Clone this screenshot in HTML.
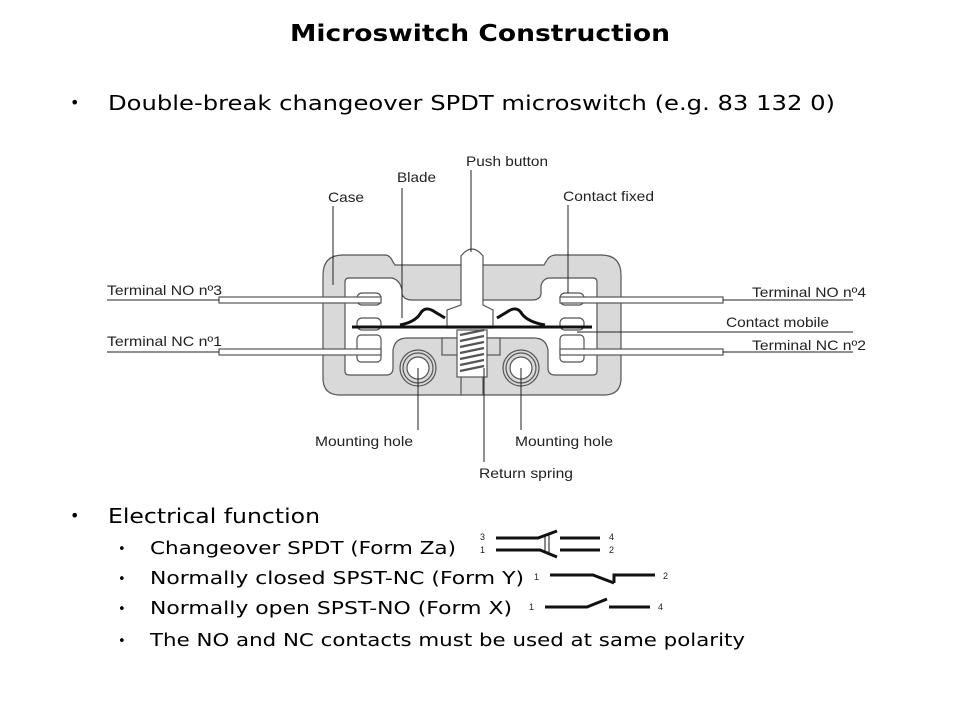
<!DOCTYPE html>
<html><head><meta charset="utf-8"><style>
body{margin:0;background:#fff;}
.w{position:relative;width:960px;height:720px;overflow:hidden;}
</style></head><body><div class="w">
<svg width="960" height="720" style="position:absolute;left:0;top:0" font-family="DejaVu Sans, Liberation Sans, sans-serif">
<g fill="#000">
<text x="290" y="41" font-size="23" font-weight="bold" textLength="380" lengthAdjust="spacingAndGlyphs">Microswitch Construction</text>
<text x="70" y="108" font-size="16">•</text>
<text x="108" y="110" font-size="20" textLength="727" lengthAdjust="spacingAndGlyphs">Double-break changeover SPDT microswitch (e.g. 83 132 0)</text>
<text x="70" y="521" font-size="16">•</text>
<text x="108" y="523" font-size="20" textLength="212" lengthAdjust="spacingAndGlyphs">Electrical function</text>
<text x="118" y="553" font-size="13">•</text>
<text x="150" y="554" font-size="18" textLength="306" lengthAdjust="spacingAndGlyphs">Changeover SPDT (Form Za)</text>
<text x="118" y="583" font-size="13">•</text>
<text x="150" y="584" font-size="18" textLength="374" lengthAdjust="spacingAndGlyphs">Normally closed SPST-NC (Form Y)</text>
<text x="118" y="613" font-size="13">•</text>
<text x="150" y="614" font-size="18" textLength="362" lengthAdjust="spacingAndGlyphs">Normally open SPST-NO (Form X)</text>
<text x="118" y="645" font-size="13">•</text>
<text x="150" y="646" font-size="18" textLength="595" lengthAdjust="spacingAndGlyphs">The NO and NC contacts must be used at same polarity</text>
</g>
<g fill="#d9d9d9" stroke="#555" stroke-width="1.2">
<path d="M323,275 Q323,255 343,255 L385,255 Q390,255 393,262 L395,265 L544,265 L547,260 Q550,255 556,255 L601,255 Q621,255 621,275 L621,378 Q621,395 604,395 L340,395 Q323,395 323,378 Z"/>
<path fill="#fff" d="M345,282 Q345,278 349,278 L392,278 Q400,280 402,290 L402,294 Q404,300 412,300 L532,300 Q540,300 541,294 L541,286 Q543,278 550,278 L593,278 Q597,278 597,282 L597,371 Q597,375 593,375 L555,375 Q548,375 548,368 L548,350 Q546,338 534,338 L407,338 Q395,338 393,350 L393,368 Q393,375 386,375 L349,375 Q345,375 345,371 Z"/>
<path fill="#fff" d="M461,256 Q472,242 483,256 L483,305 L493,310 L493,328 L447,328 L447,310 L461,305 Z"/>
<rect x="442" y="338" width="58" height="17" fill="#d9d9d9"/>
<rect x="457" y="330" width="30" height="47" fill="#fff"/>
<line x1="461" y1="377" x2="461" y2="395"/><line x1="483" y1="377" x2="483" y2="395"/>
<circle cx="418" cy="368" r="18" fill="none"/><circle cx="418" cy="368" r="15" fill="none"/><circle cx="418" cy="368" r="11" fill="#fff"/>
<circle cx="521" cy="368" r="18" fill="none"/><circle cx="521" cy="368" r="15" fill="none"/><circle cx="521" cy="368" r="11" fill="#fff"/>
<rect x="357" y="293" width="24" height="12" rx="5" fill="#fff"/>
<rect x="357" y="318" width="24" height="12" rx="5" fill="#fff"/>
<rect x="357" y="335" width="24" height="27" rx="4" fill="#fff"/>
<rect x="560" y="293" width="24" height="12" rx="5" fill="#fff"/>
<rect x="560" y="318" width="24" height="12" rx="5" fill="#fff"/>
<rect x="560" y="335" width="24" height="27" rx="4" fill="#fff"/>
<rect x="219" y="297" width="162" height="6" fill="#fff"/>
<rect x="219" y="349" width="162" height="6" fill="#fff"/>
<rect x="560" y="297" width="163" height="6" fill="#fff"/>
<rect x="560" y="349" width="163" height="6" fill="#fff"/>
</g>
<path d="M460,335 l24,-5 M460,341 l24,-5 M460,347 l24,-5 M460,353 l24,-5 M460,359 l24,-5 M460,365 l24,-5 M460,371 l24,-5" stroke="#555" stroke-width="2.2" fill="none"/>
<path d="M352,327 L592,327 M400,325 Q415,322 420,314 Q425,305 435,312 L445,318 M545,325 Q528,322 522,314 Q517,305 507,312 L497,318" stroke="#111" stroke-width="3" fill="none"/>
<g stroke="#222" stroke-width="1" fill="none">
<path d="M107,300 L219,300 M107,352 L219,352 M723,300 L853,300 M723,352 L853,352 M577,332 L853,332"/>
<path d="M333,206 L333,285 M402,188 L402,318 M471,170 L471,252 M568,205 L568,293 M418,368 L418,430 M521,368 L521,430 M484,368 L484,462"/>
</g>
<g fill="#222" font-family="Liberation Sans Narrow, Liberation Sans, sans-serif" font-size="14">
<text x="466" y="166" textLength="82" lengthAdjust="spacingAndGlyphs">Push button</text>
<text x="397" y="182" textLength="39" lengthAdjust="spacingAndGlyphs">Blade</text>
<text x="328" y="202" textLength="36" lengthAdjust="spacingAndGlyphs">Case</text>
<text x="563" y="201" textLength="91" lengthAdjust="spacingAndGlyphs">Contact fixed</text>
<text x="107" y="295" textLength="115" lengthAdjust="spacingAndGlyphs">Terminal NO nº3</text>
<text x="107" y="346" textLength="115" lengthAdjust="spacingAndGlyphs">Terminal NC nº1</text>
<text x="752" y="297" textLength="114" lengthAdjust="spacingAndGlyphs">Terminal NO nº4</text>
<text x="726" y="327" textLength="103" lengthAdjust="spacingAndGlyphs">Contact mobile</text>
<text x="752" y="350" textLength="114" lengthAdjust="spacingAndGlyphs">Terminal NC nº2</text>
<text x="315" y="446" textLength="98" lengthAdjust="spacingAndGlyphs">Mounting hole</text>
<text x="515" y="446" textLength="98" lengthAdjust="spacingAndGlyphs">Mounting hole</text>
<text x="479" y="478" textLength="94" lengthAdjust="spacingAndGlyphs">Return spring</text>
</g>
<g stroke="#111" stroke-width="3" fill="none">
<path d="M496,538 L538,538 L557,531 M560,538 L600,538 M496,550 L540,550 L557,557 M560,550 L600,550"/>
<path d="M550,575 L593,575 L614,583 M614,583 L614,575 L655,575"/>
<path d="M545,607 L587,607 L607,599 M609,607 L650,607"/>
</g>
<path d="M545,534 L545,552 M549,533 L549,554" stroke="#111" stroke-width="1"/>
<g font-family="Liberation Sans, sans-serif" font-size="9" fill="#222">
<text x="480" y="540">3</text><text x="480" y="553">1</text><text x="609" y="540">4</text><text x="609" y="553">2</text>
<text x="534" y="580">1</text><text x="663" y="579">2</text><text x="529" y="610">1</text><text x="658" y="610">4</text>
</g>
</svg>
</div></body></html>
